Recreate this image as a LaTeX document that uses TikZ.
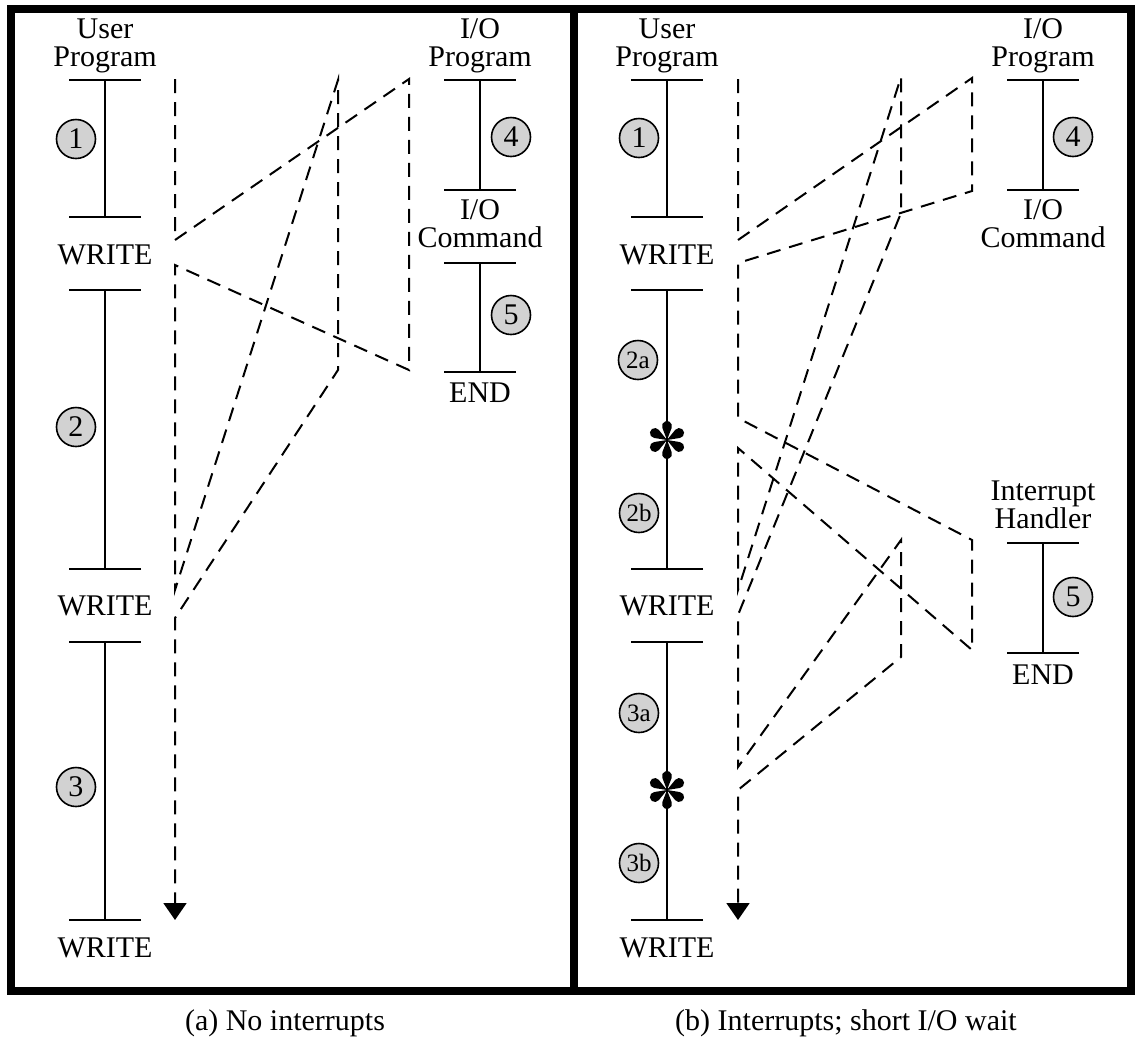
\documentclass[tikz,border=0pt]{standalone}
\usepackage{fontspec}
\setmainfont{Liberation Serif}
\usetikzlibrary{arrows.meta,positioning}

\begin{document}
\begin{tikzpicture}[
    x=0.5pt, y=-0.5pt,
    font=\fontsize{15}{14}\selectfont,
    frame/.style={line width=4pt},
    progbar/.style={line width=1pt, {Bar[width=36pt]}-{Bar[width=36pt]}},
    flow/.style={line width=1pt, dash pattern=on 7pt off 4.5pt},
    num/.style={circle, draw, line width=0.8pt, fill=gray!35, minimum size=19.5pt, inner sep=0pt},
    subnum/.style={num, font=\fontsize{12.5}{12}\selectfont},
    lbl/.style={align=center, inner sep=0pt},
    asterisk/.pic={
        \foreach \a in {30,90,...,330}
            \fill[rotate=\a] (0,0) -- (12.2,-4.67) arc[start angle=249, end angle=471, radius=5] -- cycle;
    }
]
    \useasboundingbox (0,0) rectangle (1137,1041);

    % panels
    \draw[frame] (11,9) rectangle (1131,991);
    \draw[frame] (574,9) -- (574,991);

    % program bars
    \foreach \name/\x/\ya/\yb in {ua1/105/79/218, ua2/105/289/570, ua3/105/641/921,
                                  ioa1/480/79/191, ioa2/480/262/373,
                                  ub1/667/79/218, ub2/667/289/570, ub3/667/641/921,
                                  iob/1043/79/191, ih/1043/542/654} {
        \coordinate (\name-t) at (\x,\ya);
        \coordinate (\name-b) at (\x,\yb);
        \draw[progbar] (\name-t) -- (\name-b);
    }
    \pic at (667,440) {asterisk};
    \pic at (667,790) {asterisk};

    % labels
    \node[lbl] (ua-lbl) at (105,46) {User\\Program};
    \node[lbl] (ub-lbl) at (667,46) {User\\Program};
    \node[lbl] (ioa-lbl) at (480,46) {I/O\\Program};
    \node[lbl] (iob-lbl) at (1043,46) {I/O\\Program};
    \node[lbl] (cmda-lbl) at (480,224) {I/O\\Command};
    \node[lbl] (cmdb-lbl) at (1043,224) {I/O\\Command};
    \node[lbl] (ih-lbl) at (1043,505) {Interrupt\\Handler};
    \node (enda) at (480,393) {END};
    \node (endb) at (1043,675) {END};
    \foreach \x/\p in {105/a, 667/b}
        \foreach \y/\n in {255/1, 606/2, 948/3}
            \node (write\p\n) at (\x,\y) {WRITE};

    % step numbers
    \node[num] (na1) at (76,139) {1};
    \node[num] (na2) at (76,427) {2};
    \node[num] (na3) at (76,787) {3};
    \node[num] (na4) at (511,137) {4};
    \node[num] (na5) at (511,315) {5};
    \node[num] (nb1) at (639,138) {1};
    \node[subnum] (nb2a) at (638,360) {2a};
    \node[subnum] (nb2b) at (639,513) {2b};
    \node[subnum] (nb3a) at (639,713) {3a};
    \node[subnum] (nb3b) at (639,863) {3b};
    \node[num] (nb4) at (1073,137) {4};
    \node[num] (nb5) at (1073,597) {5};

    % flow of control, no interrupts
    \foreach \n/\x/\y in {0/175/79, 1/175/240, 2/409/79, 3/409/370, 4/175/265,
                          5/175/590, 6/338/80, 7/338/370, 8/175/618, 9/175/920}
        \coordinate (a\n) at (\x,\y);
    \draw[flow, -{Triangle[length=8.5pt, width=11.5pt]}]
        (a0) -- (a1) -- (a2) -- (a3) -- (a4) -- (a5) -- (a6) -- (a7) -- (a8) -- (a9);

    % flow of control, with interrupts
    \foreach \n/\x/\y in {0/738/79, 1/738/240, 2/972/78, 3/972/191, 4/738/263,
                          5/738/418, 6/972/540, 7/972/650, 8/738/448, 9/738/590,
                          10/901/77, 11/901/213, 12/738/615, 13/738/767,
                          14/901/540, 15/901/657, 16/738/790, 17/738/920}
        \coordinate (b\n) at (\x,\y);
    \draw[flow, -{Triangle[length=8.5pt, width=11.5pt]}]
        (b0) -- (b1) -- (b2) -- (b3) -- (b4) -- (b5) -- (b6) -- (b7) -- (b8) -- (b9)
        -- (b10) -- (b11) -- (b12) -- (b13) -- (b14) -- (b15) -- (b16) -- (b17);

    % captions
    \node (cap-a) at (285,1023) {(a) No interrupts};
    \node (cap-b) at (846,1023) {(b) Interrupts; short I/O wait};
\end{tikzpicture}
\end{document}
